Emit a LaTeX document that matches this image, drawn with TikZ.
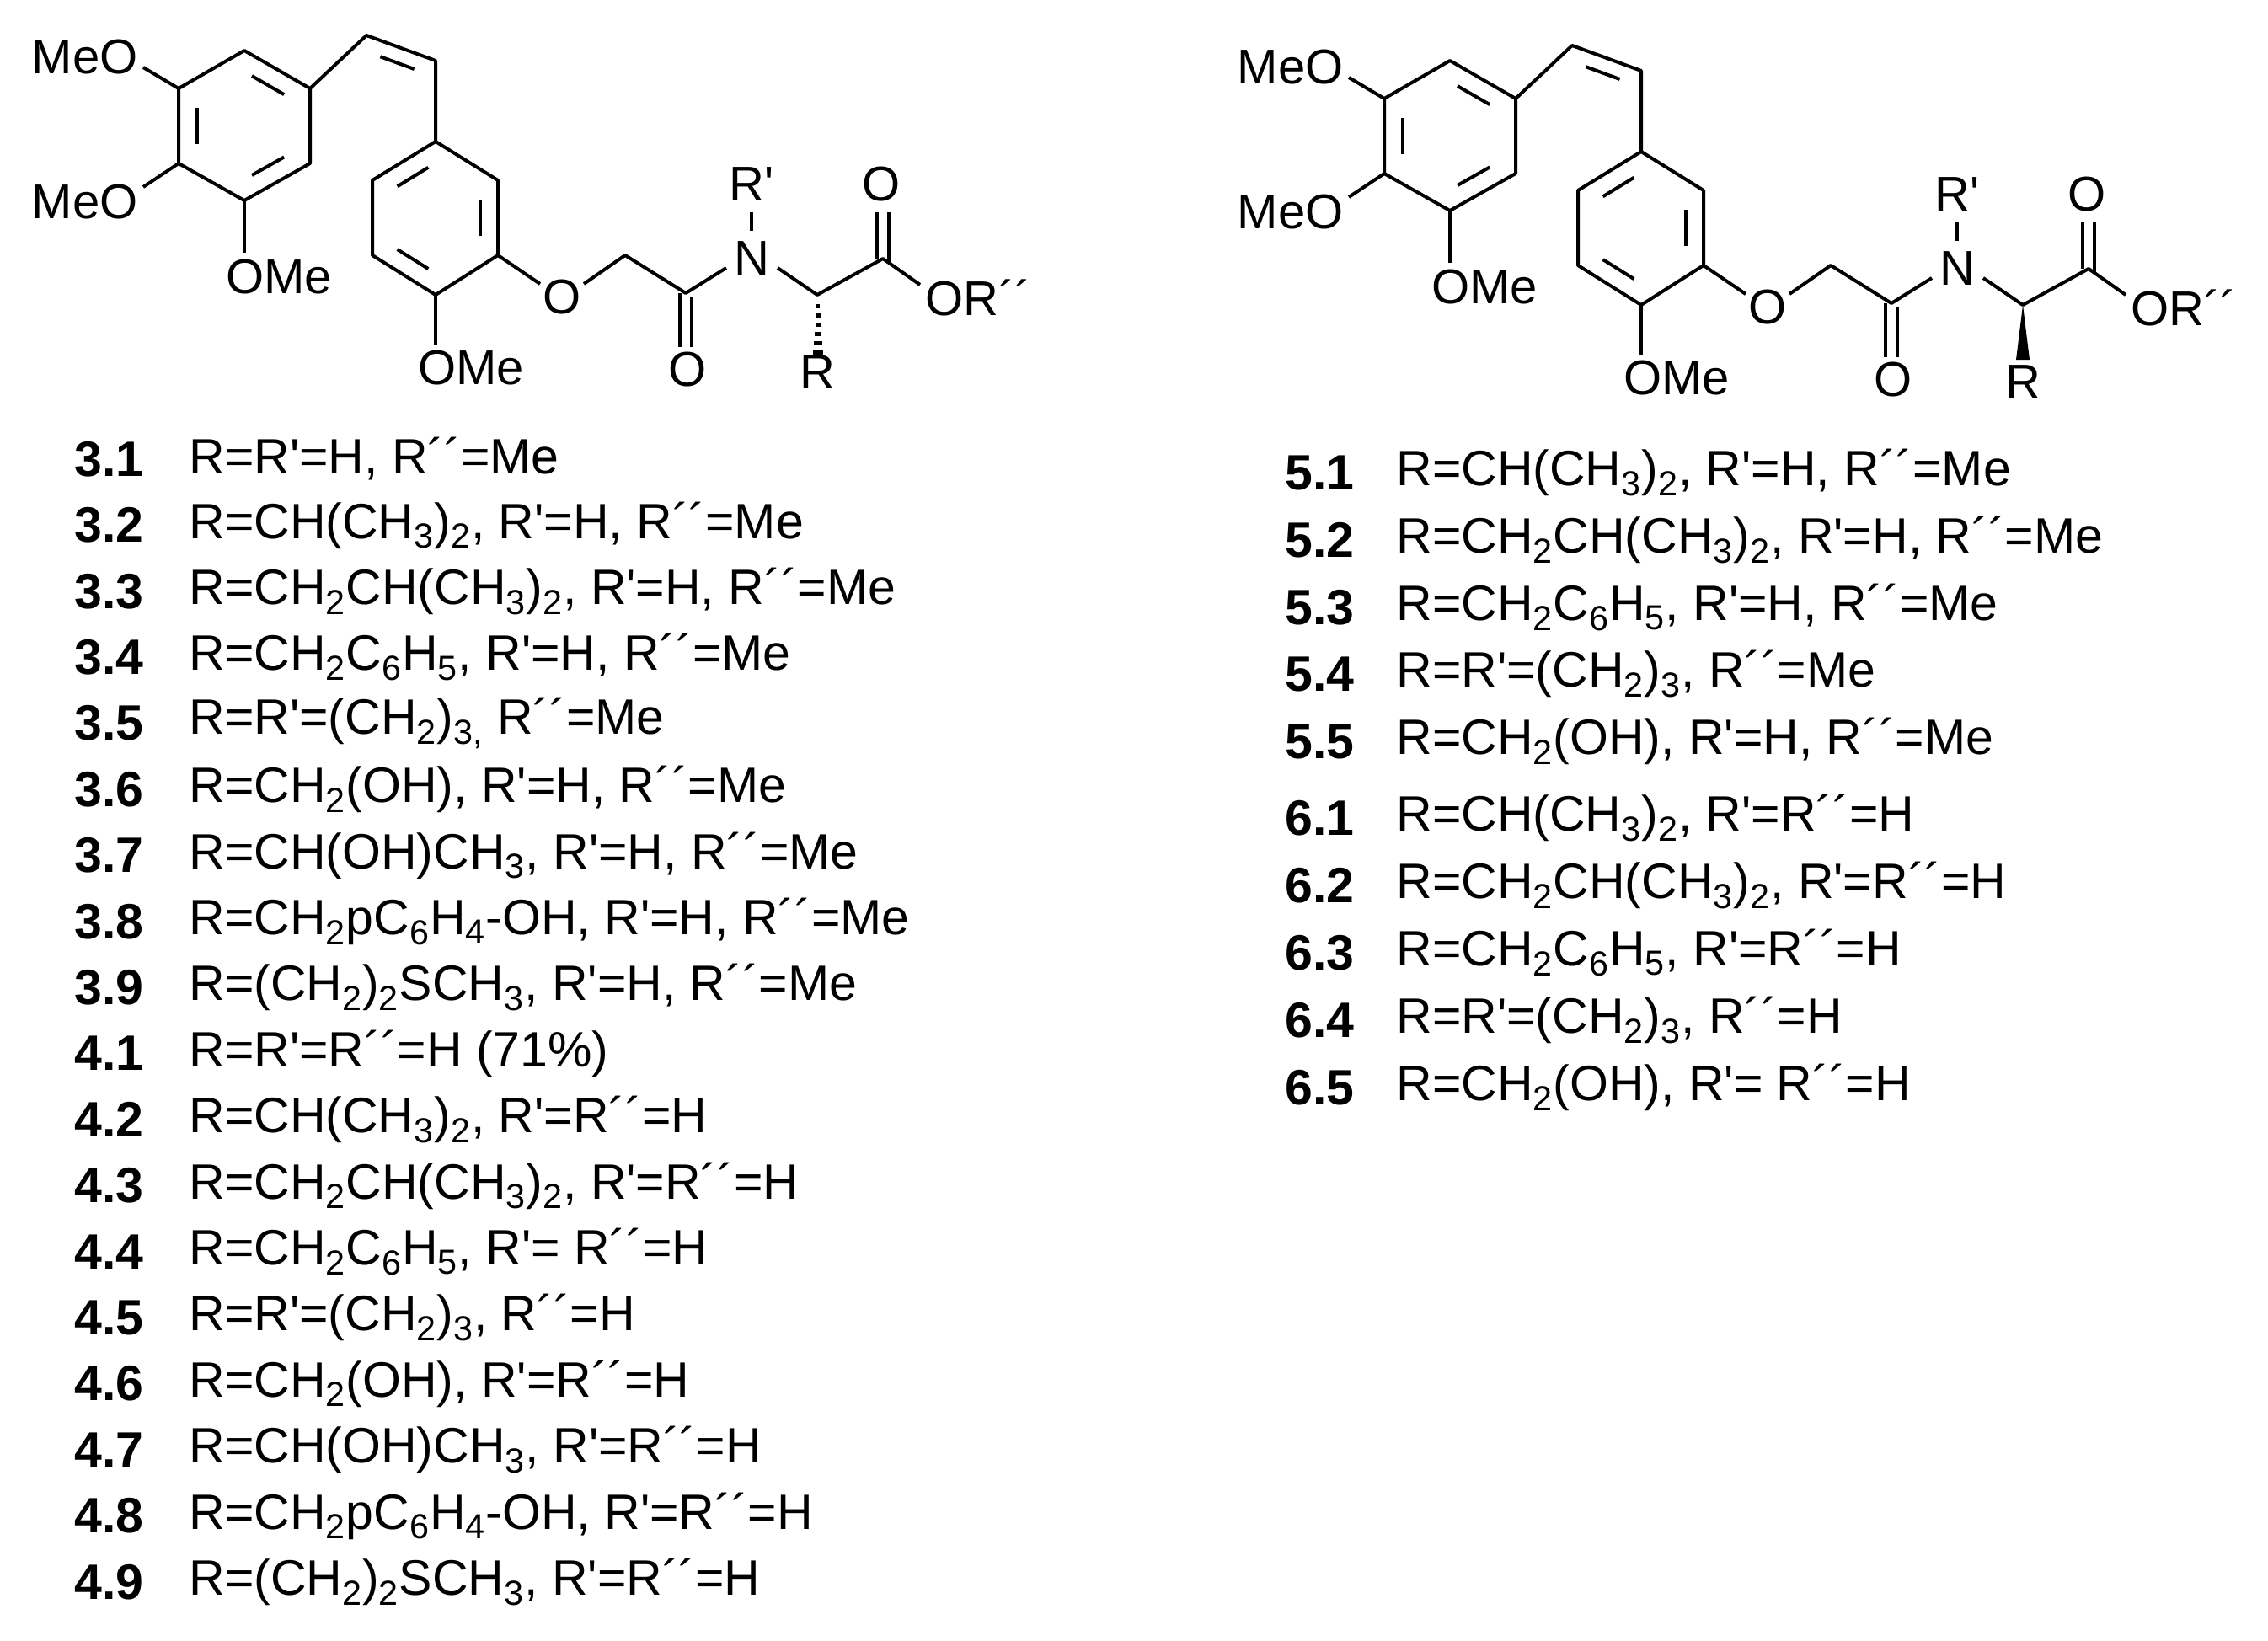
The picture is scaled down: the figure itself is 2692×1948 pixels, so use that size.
\documentclass[tikz,border=0pt]{standalone}
\usepackage{fontspec}
\setmainfont{Liberation Sans}
\usetikzlibrary{calc}
\newcommand\Rp{R\textquotesingle}
\newcommand\Rpp{R´´}
\newcommand\sub[1]{\textsubscript{#1}}
\tikzset{bond/.style={line width=2pt},
 lab/.style={font=\fontsize{29}{32}\selectfont, inner sep=0pt},
 idx/.style={font=\fontsize{29.5}{32}\selectfont\bfseries, anchor=west, inner sep=0pt},
 frm/.style={font=\fontsize{29.5}{32}\selectfont, anchor=west, inner sep=0pt}}
\newcommand\inr[3]{\draw[bond] ($($(#1)!0.16!(#2)$)!0.28!(#3)$) -- ($($(#2)!0.16!(#1)$)!0.28!(#3)$);}
\newcommand\mol[2]{%
\begin{scope}[shift={(#1,#2)}]
\coordinate (A1) at (290,60); \coordinate (A2) at (368,105); \coordinate (A3) at (368,194);
\coordinate (A4) at (290,238); \coordinate (A5) at (212,194); \coordinate (A6) at (212,105);
\coordinate (Ac) at (290,149);
\coordinate (V1) at (435,42); \coordinate (V2) at (517,72); \coordinate (Vc) at (460,120);
\coordinate (B1) at (517,168); \coordinate (B2) at (591,214); \coordinate (B3) at (591,303);
\coordinate (B4) at (517,350); \coordinate (B5) at (442,303); \coordinate (B6) at (442,214);
\coordinate (Bc) at (517,259);
\coordinate (CH) at (742,303); \coordinate (C1) at (814,348); \coordinate (Ca) at (970,350);
\coordinate (C2) at (1048,307);
\draw[bond,line join=round] (A1)--(A2)--(A3)--(A4)--(A5)--(A6)--cycle;
\draw[bond,line join=round] (B1)--(B2)--(B3)--(B4)--(B5)--(B6)--cycle;
\draw[bond,line join=round] (A2)--(V1)--(V2)--(B1);
\inr{A1}{A2}{Ac} \inr{A3}{A4}{Ac} \inr{A5}{A6}{Ac}
\inr{V1}{V2}{Vc}
\inr{B6}{B1}{Bc} \inr{B2}{B3}{Bc} \inr{B4}{B5}{Bc}
\node[lab,anchor=east] (m1) at (164,68) {MeO};
\node[lab,anchor=east] (m2) at (164,240) {MeO};
\node[lab,anchor=west] (m3) at (268,329) {OMe};
\node[lab,anchor=west] (m4) at (496,437) {OMe};
\node[lab] (Oe) at (667,353) {O};
\node[lab] (O1) at (816,439) {O};
\node[lab] (N) at (892,307) {N};
\node[lab] (Rp) at (892,219) {\Rp};
\node[lab] (R) at (970,442) {R};
\node[lab] (O2) at (1046,219) {O};
\node[lab,anchor=west] (OR) at (1098,353) {O\Rpp};
\draw[bond] (A6)--(170,80); \draw[bond] (A5)--(170,222);
\draw[bond] (A4)--(290,300); \draw[bond] (B4)--(517,410);
\draw[bond,line join=round] (B3)--(641,337); \draw[bond,line join=round] (693,337)--(CH)--(C1)--(862,318);
\draw[bond] (892,274)--(892,252);
\draw[bond,line join=round] (923,318)--(Ca)--(C2)--(1092,338);
\draw[bond] ($(C1)+(-7,0)$)--(807,412); \draw[bond] ($(C1)+(7,5)$)--(821,412);
\draw[bond] ($(C2)+(-7,0)$)--(1041,252); \draw[bond] ($(C2)+(7,5)$)--(1055,252);
\end{scope}}
\begin{document}
\begin{tikzpicture}[x=0.5pt,y=-0.5pt]
\useasboundingbox (0,0) rectangle (2692,1948);
\mol{0}{0}
\foreach \i in {1,...,6} {\fill (970-0.8*\i,350+11*\i) rectangle (970+0.8*\i+2,350+11*\i+5);}
\mol{1431}{12}
\fill (2401,362) -- (2393,427) -- (2409,427) -- cycle;
\foreach \n/\t [count=\k from 0] in {
3.1/{R=R\textquotesingle=H, \Rpp=Me},
3.2/{R=CH(CH\sub3)\sub2, R\textquotesingle=H, \Rpp=Me},
3.3/{R=CH\sub2CH(CH\sub3)\sub2, R\textquotesingle=H, \Rpp=Me},
3.4/{R=CH\sub2C\sub6H\sub5, R\textquotesingle=H, \Rpp=Me},
3.5/{R=R\textquotesingle=(CH\sub2)\sub{3,} \Rpp=Me},
3.6/{R=CH\sub2(OH), R\textquotesingle=H, \Rpp=Me},
3.7/{R=CH(OH)CH\sub3, R\textquotesingle=H, \Rpp=Me},
3.8/{R=CH\sub2pC\sub6H\sub4-OH, R\textquotesingle=H, \Rpp=Me},
3.9/{R=(CH\sub2)\sub2SCH\sub3, R\textquotesingle=H, \Rpp=Me},
4.1/{R=R\textquotesingle=\Rpp=H (71\%)},
4.2/{R=CH(CH\sub3)\sub2, R\textquotesingle=\Rpp=H},
4.3/{R=CH\sub2CH(CH\sub3)\sub2, R\textquotesingle=\Rpp=H},
4.4/{R=CH\sub2C\sub6H\sub5, R\textquotesingle= \Rpp=H},
4.5/{R=R\textquotesingle=(CH\sub2)\sub3, \Rpp=H},
4.6/{R=CH\sub2(OH), R\textquotesingle=\Rpp=H},
4.7/{R=CH(OH)CH\sub3, R\textquotesingle=\Rpp=H},
4.8/{R=CH\sub2pC\sub6H\sub4-OH, R\textquotesingle=\Rpp=H},
4.9/{R=(CH\sub2)\sub2SCH\sub3, R\textquotesingle=\Rpp=H}} {
\node[idx] (L\k) at (88,545+78.4*\k) {\n};
\node[frm] (F\k) at (224,545+78.4*\k) {\t};
}
\foreach \n/\t/\y [count=\k] in {
5.1/{R=CH(CH\sub3)\sub2, R\textquotesingle=H, \Rpp=Me}/561,
5.2/{R=CH\sub2CH(CH\sub3)\sub2, R\textquotesingle=H, \Rpp=Me}/641,
5.3/{R=CH\sub2C\sub6H\sub5, R\textquotesingle=H, \Rpp=Me}/721,
5.4/{R=R\textquotesingle=(CH\sub2)\sub3, \Rpp=Me}/800,
5.5/{R=CH\sub2(OH), R\textquotesingle=H, \Rpp=Me}/880,
6.1/{R=CH(CH\sub3)\sub2, R\textquotesingle=\Rpp=H}/971,
6.2/{R=CH\sub2CH(CH\sub3)\sub2, R\textquotesingle=\Rpp=H}/1051,
6.3/{R=CH\sub2C\sub6H\sub5, R\textquotesingle=\Rpp=H}/1131,
6.4/{R=R\textquotesingle=(CH\sub2)\sub3, \Rpp=H}/1211,
6.5/{R=CH\sub2(OH), R\textquotesingle= \Rpp=H}/1291} {
\node[idx] (M\k) at (1525,\y) {\n};
\node[frm] (G\k) at (1657,\y) {\t};
}
\end{tikzpicture}
\end{document}
